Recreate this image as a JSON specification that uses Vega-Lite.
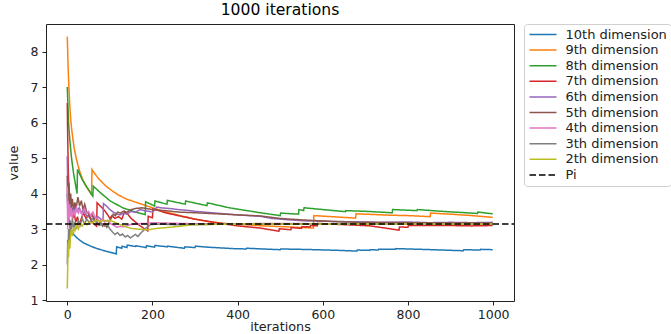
{
"$schema": "https://vega.github.io/schema/vega-lite/v6.json",
"width": 468, "height": 277,
"autosize": "none",
"padding": {"left": 46, "top": 24, "right": 157, "bottom": 33},
"title": {"text": "1000 iterations", "fontSize": 15.6, "font": "DejaVu Sans", "fontWeight": "normal", "color": "#000", "offset": 5, "anchor": "middle"},
"data": {"values": [
{"s":"10th dimension","i":0,"v":4.0},{"s":"10th dimension","i":1,"v":3.7},{"s":"10th dimension","i":3,"v":3.35},{"s":"10th dimension","i":6,"v":3.1},{"s":"10th dimension","i":10,"v":2.95},{"s":"10th dimension","i":15,"v":2.85},{"s":"10th dimension","i":22,"v":2.76},{"s":"10th dimension","i":30,"v":2.68},{"s":"10th dimension","i":40,"v":2.6},{"s":"10th dimension","i":55,"v":2.52},{"s":"10th dimension","i":70,"v":2.45},{"s":"10th dimension","i":90,"v":2.38},{"s":"10th dimension","i":115,"v":2.3},{"s":"10th dimension","i":116,"v":2.5},{"s":"10th dimension","i":128,"v":2.46},{"s":"10th dimension","i":129,"v":2.52},{"s":"10th dimension","i":140,"v":2.48},{"s":"10th dimension","i":141,"v":2.55},{"s":"10th dimension","i":160,"v":2.51},{"s":"10th dimension","i":161,"v":2.53},{"s":"10th dimension","i":185,"v":2.48},{"s":"10th dimension","i":186,"v":2.53},{"s":"10th dimension","i":205,"v":2.49},{"s":"10th dimension","i":206,"v":2.54},{"s":"10th dimension","i":235,"v":2.5},{"s":"10th dimension","i":236,"v":2.52},{"s":"10th dimension","i":260,"v":2.48},{"s":"10th dimension","i":275,"v":2.46},{"s":"10th dimension","i":276,"v":2.5},{"s":"10th dimension","i":300,"v":2.48},{"s":"10th dimension","i":301,"v":2.52},{"s":"10th dimension","i":330,"v":2.49},{"s":"10th dimension","i":360,"v":2.47},{"s":"10th dimension","i":390,"v":2.45},{"s":"10th dimension","i":420,"v":2.44},{"s":"10th dimension","i":421,"v":2.46},{"s":"10th dimension","i":460,"v":2.44},{"s":"10th dimension","i":500,"v":2.42},{"s":"10th dimension","i":501,"v":2.44},{"s":"10th dimension","i":545,"v":2.43},{"s":"10th dimension","i":580,"v":2.42},{"s":"10th dimension","i":610,"v":2.41},{"s":"10th dimension","i":640,"v":2.4},{"s":"10th dimension","i":680,"v":2.38},{"s":"10th dimension","i":681,"v":2.41},{"s":"10th dimension","i":710,"v":2.4},{"s":"10th dimension","i":711,"v":2.42},{"s":"10th dimension","i":730,"v":2.41},{"s":"10th dimension","i":731,"v":2.43},{"s":"10th dimension","i":770,"v":2.43},{"s":"10th dimension","i":771,"v":2.45},{"s":"10th dimension","i":830,"v":2.43},{"s":"10th dimension","i":880,"v":2.41},{"s":"10th dimension","i":930,"v":2.39},{"s":"10th dimension","i":931,"v":2.42},{"s":"10th dimension","i":970,"v":2.41},{"s":"10th dimension","i":971,"v":2.43},{"s":"10th dimension","i":999,"v":2.42},
{"s":"9th dimension","i":0,"v":8.42},{"s":"9th dimension","i":1,"v":8.0},{"s":"9th dimension","i":2,"v":7.55},{"s":"9th dimension","i":4,"v":6.95},{"s":"9th dimension","i":6,"v":6.45},{"s":"9th dimension","i":8,"v":6.1},{"s":"9th dimension","i":10,"v":5.85},{"s":"9th dimension","i":13,"v":5.55},{"s":"9th dimension","i":16,"v":5.3},{"s":"9th dimension","i":20,"v":5.05},{"s":"9th dimension","i":25,"v":4.8},{"s":"9th dimension","i":30,"v":4.6},{"s":"9th dimension","i":36,"v":4.4},{"s":"9th dimension","i":42,"v":4.25},{"s":"9th dimension","i":50,"v":4.1},{"s":"9th dimension","i":57,"v":3.97},{"s":"9th dimension","i":58,"v":4.68},{"s":"9th dimension","i":65,"v":4.55},{"s":"9th dimension","i":75,"v":4.4},{"s":"9th dimension","i":90,"v":4.22},{"s":"9th dimension","i":105,"v":4.08},{"s":"9th dimension","i":120,"v":3.96},{"s":"9th dimension","i":140,"v":3.84},{"s":"9th dimension","i":160,"v":3.76},{"s":"9th dimension","i":180,"v":3.68},{"s":"9th dimension","i":200,"v":3.6},{"s":"9th dimension","i":230,"v":3.49},{"s":"9th dimension","i":265,"v":3.38},{"s":"9th dimension","i":300,"v":3.28},{"s":"9th dimension","i":336,"v":3.2},{"s":"9th dimension","i":380,"v":3.15},{"s":"9th dimension","i":420,"v":3.12},{"s":"9th dimension","i":460,"v":3.09},{"s":"9th dimension","i":500,"v":3.07},{"s":"9th dimension","i":540,"v":3.05},{"s":"9th dimension","i":578,"v":3.03},{"s":"9th dimension","i":579,"v":3.38},{"s":"9th dimension","i":620,"v":3.35},{"s":"9th dimension","i":677,"v":3.31},{"s":"9th dimension","i":678,"v":3.43},{"s":"9th dimension","i":720,"v":3.41},{"s":"9th dimension","i":760,"v":3.39},{"s":"9th dimension","i":800,"v":3.38},{"s":"9th dimension","i":852,"v":3.35},{"s":"9th dimension","i":853,"v":3.45},{"s":"9th dimension","i":900,"v":3.42},{"s":"9th dimension","i":950,"v":3.38},{"s":"9th dimension","i":999,"v":3.33},
{"s":"8th dimension","i":0,"v":7.0},{"s":"8th dimension","i":3,"v":6.0},{"s":"8th dimension","i":6,"v":5.5},{"s":"8th dimension","i":10,"v":5.0},{"s":"8th dimension","i":15,"v":4.55},{"s":"8th dimension","i":23,"v":4.0},{"s":"8th dimension","i":24,"v":4.68},{"s":"8th dimension","i":35,"v":4.4},{"s":"8th dimension","i":45,"v":4.2},{"s":"8th dimension","i":60,"v":3.93},{"s":"8th dimension","i":61,"v":4.21},{"s":"8th dimension","i":80,"v":4.0},{"s":"8th dimension","i":100,"v":3.8},{"s":"8th dimension","i":130,"v":3.6},{"s":"8th dimension","i":160,"v":3.48},{"s":"8th dimension","i":183,"v":3.41},{"s":"8th dimension","i":184,"v":3.77},{"s":"8th dimension","i":205,"v":3.65},{"s":"8th dimension","i":206,"v":3.79},{"s":"8th dimension","i":234,"v":3.7},{"s":"8th dimension","i":235,"v":3.81},{"s":"8th dimension","i":277,"v":3.7},{"s":"8th dimension","i":278,"v":3.79},{"s":"8th dimension","i":328,"v":3.66},{"s":"8th dimension","i":329,"v":3.74},{"s":"8th dimension","i":380,"v":3.6},{"s":"8th dimension","i":453,"v":3.46},{"s":"8th dimension","i":500,"v":3.38},{"s":"8th dimension","i":501,"v":3.45},{"s":"8th dimension","i":543,"v":3.42},{"s":"8th dimension","i":544,"v":3.55},{"s":"8th dimension","i":555,"v":3.52},{"s":"8th dimension","i":556,"v":3.6},{"s":"8th dimension","i":600,"v":3.55},{"s":"8th dimension","i":653,"v":3.49},{"s":"8th dimension","i":654,"v":3.52},{"s":"8th dimension","i":700,"v":3.5},{"s":"8th dimension","i":763,"v":3.46},{"s":"8th dimension","i":764,"v":3.55},{"s":"8th dimension","i":821,"v":3.52},{"s":"8th dimension","i":822,"v":3.55},{"s":"8th dimension","i":880,"v":3.5},{"s":"8th dimension","i":963,"v":3.44},{"s":"8th dimension","i":964,"v":3.48},{"s":"8th dimension","i":999,"v":3.43},
{"s":"7th dimension","i":0,"v":6.55},{"s":"7th dimension","i":1,"v":5.6},{"s":"7th dimension","i":2,"v":4.9},{"s":"7th dimension","i":3,"v":4.4},{"s":"7th dimension","i":5,"v":3.95},{"s":"7th dimension","i":7,"v":3.7},{"s":"7th dimension","i":10,"v":3.5},{"s":"7th dimension","i":13,"v":3.3},{"s":"7th dimension","i":16,"v":3.45},{"s":"7th dimension","i":20,"v":3.2},{"s":"7th dimension","i":24,"v":3.35},{"s":"7th dimension","i":28,"v":3.1},{"s":"7th dimension","i":33,"v":3.3},{"s":"7th dimension","i":38,"v":3.45},{"s":"7th dimension","i":44,"v":3.3},{"s":"7th dimension","i":50,"v":3.4},{"s":"7th dimension","i":56,"v":3.25},{"s":"7th dimension","i":62,"v":3.15},{"s":"7th dimension","i":69,"v":3.08},{"s":"7th dimension","i":70,"v":3.74},{"s":"7th dimension","i":80,"v":3.62},{"s":"7th dimension","i":89,"v":3.5},{"s":"7th dimension","i":95,"v":3.4},{"s":"7th dimension","i":100,"v":3.3},{"s":"7th dimension","i":105,"v":3.38},{"s":"7th dimension","i":112,"v":3.3},{"s":"7th dimension","i":120,"v":3.35},{"s":"7th dimension","i":128,"v":3.28},{"s":"7th dimension","i":135,"v":3.5},{"s":"7th dimension","i":142,"v":3.42},{"s":"7th dimension","i":150,"v":3.3},{"s":"7th dimension","i":160,"v":3.2},{"s":"7th dimension","i":170,"v":3.1},{"s":"7th dimension","i":180,"v":3.02},{"s":"7th dimension","i":189,"v":2.95},{"s":"7th dimension","i":190,"v":3.36},{"s":"7th dimension","i":200,"v":3.32},{"s":"7th dimension","i":201,"v":3.57},{"s":"7th dimension","i":215,"v":3.52},{"s":"7th dimension","i":230,"v":3.46},{"s":"7th dimension","i":260,"v":3.38},{"s":"7th dimension","i":300,"v":3.28},{"s":"7th dimension","i":350,"v":3.18},{"s":"7th dimension","i":400,"v":3.09},{"s":"7th dimension","i":453,"v":3.03},{"s":"7th dimension","i":497,"v":2.94},{"s":"7th dimension","i":498,"v":3.01},{"s":"7th dimension","i":525,"v":2.98},{"s":"7th dimension","i":526,"v":3.04},{"s":"7th dimension","i":550,"v":3.02},{"s":"7th dimension","i":551,"v":3.07},{"s":"7th dimension","i":570,"v":3.06},{"s":"7th dimension","i":571,"v":3.1},{"s":"7th dimension","i":587,"v":3.09},{"s":"7th dimension","i":588,"v":3.16},{"s":"7th dimension","i":620,"v":3.14},{"s":"7th dimension","i":660,"v":3.12},{"s":"7th dimension","i":712,"v":3.09},{"s":"7th dimension","i":740,"v":3.04},{"s":"7th dimension","i":779,"v":2.97},{"s":"7th dimension","i":780,"v":3.06},{"s":"7th dimension","i":800,"v":3.05},{"s":"7th dimension","i":801,"v":3.1},{"s":"7th dimension","i":850,"v":3.1},{"s":"7th dimension","i":900,"v":3.1},{"s":"7th dimension","i":950,"v":3.09},{"s":"7th dimension","i":999,"v":3.1},
{"s":"6th dimension","i":0,"v":5.05},{"s":"6th dimension","i":1,"v":4.2},{"s":"6th dimension","i":2,"v":3.7},{"s":"6th dimension","i":3,"v":4.0},{"s":"6th dimension","i":5,"v":3.5},{"s":"6th dimension","i":7,"v":3.75},{"s":"6th dimension","i":9,"v":3.4},{"s":"6th dimension","i":12,"v":3.6},{"s":"6th dimension","i":15,"v":3.45},{"s":"6th dimension","i":19,"v":3.65},{"s":"6th dimension","i":23,"v":3.5},{"s":"6th dimension","i":28,"v":3.6},{"s":"6th dimension","i":33,"v":3.45},{"s":"6th dimension","i":38,"v":3.55},{"s":"6th dimension","i":44,"v":3.4},{"s":"6th dimension","i":50,"v":3.35},{"s":"6th dimension","i":57,"v":3.42},{"s":"6th dimension","i":64,"v":3.3},{"s":"6th dimension","i":72,"v":3.35},{"s":"6th dimension","i":79,"v":3.28},{"s":"6th dimension","i":84,"v":3.25},{"s":"6th dimension","i":85,"v":3.72},{"s":"6th dimension","i":92,"v":3.65},{"s":"6th dimension","i":100,"v":3.55},{"s":"6th dimension","i":108,"v":3.48},{"s":"6th dimension","i":116,"v":3.42},{"s":"6th dimension","i":124,"v":3.4},{"s":"6th dimension","i":132,"v":3.45},{"s":"6th dimension","i":140,"v":3.42},{"s":"6th dimension","i":150,"v":3.5},{"s":"6th dimension","i":160,"v":3.47},{"s":"6th dimension","i":170,"v":3.55},{"s":"6th dimension","i":180,"v":3.52},{"s":"6th dimension","i":192,"v":3.5},{"s":"6th dimension","i":200,"v":3.48},{"s":"6th dimension","i":210,"v":3.62},{"s":"6th dimension","i":220,"v":3.6},{"s":"6th dimension","i":240,"v":3.58},{"s":"6th dimension","i":260,"v":3.55},{"s":"6th dimension","i":280,"v":3.53},{"s":"6th dimension","i":300,"v":3.5},{"s":"6th dimension","i":330,"v":3.47},{"s":"6th dimension","i":360,"v":3.44},{"s":"6th dimension","i":400,"v":3.4},{"s":"6th dimension","i":453,"v":3.36},{"s":"6th dimension","i":480,"v":3.3},{"s":"6th dimension","i":520,"v":3.26},{"s":"6th dimension","i":560,"v":3.23},{"s":"6th dimension","i":600,"v":3.22},{"s":"6th dimension","i":650,"v":3.21},{"s":"6th dimension","i":700,"v":3.2},{"s":"6th dimension","i":750,"v":3.19},{"s":"6th dimension","i":800,"v":3.2},{"s":"6th dimension","i":850,"v":3.18},{"s":"6th dimension","i":900,"v":3.19},{"s":"6th dimension","i":950,"v":3.18},{"s":"6th dimension","i":999,"v":3.19},
{"s":"5th dimension","i":0,"v":4.5},{"s":"5th dimension","i":1,"v":3.6},{"s":"5th dimension","i":2,"v":4.2},{"s":"5th dimension","i":3,"v":3.8},{"s":"5th dimension","i":4,"v":4.3},{"s":"5th dimension","i":6,"v":3.7},{"s":"5th dimension","i":8,"v":4.0},{"s":"5th dimension","i":10,"v":3.6},{"s":"5th dimension","i":12,"v":3.85},{"s":"5th dimension","i":15,"v":3.55},{"s":"5th dimension","i":18,"v":3.75},{"s":"5th dimension","i":21,"v":3.6},{"s":"5th dimension","i":25,"v":3.9},{"s":"5th dimension","i":29,"v":3.65},{"s":"5th dimension","i":33,"v":3.8},{"s":"5th dimension","i":37,"v":3.55},{"s":"5th dimension","i":41,"v":3.7},{"s":"5th dimension","i":45,"v":3.5},{"s":"5th dimension","i":49,"v":3.45},{"s":"5th dimension","i":53,"v":3.32},{"s":"5th dimension","i":58,"v":3.4},{"s":"5th dimension","i":63,"v":3.28},{"s":"5th dimension","i":68,"v":3.2},{"s":"5th dimension","i":73,"v":3.12},{"s":"5th dimension","i":78,"v":3.2},{"s":"5th dimension","i":83,"v":3.08},{"s":"5th dimension","i":88,"v":3.15},{"s":"5th dimension","i":93,"v":3.05},{"s":"5th dimension","i":98,"v":3.2},{"s":"5th dimension","i":103,"v":3.3},{"s":"5th dimension","i":108,"v":3.42},{"s":"5th dimension","i":113,"v":3.38},{"s":"5th dimension","i":118,"v":3.48},{"s":"5th dimension","i":125,"v":3.45},{"s":"5th dimension","i":132,"v":3.5},{"s":"5th dimension","i":140,"v":3.47},{"s":"5th dimension","i":150,"v":3.55},{"s":"5th dimension","i":160,"v":3.58},{"s":"5th dimension","i":175,"v":3.6},{"s":"5th dimension","i":190,"v":3.57},{"s":"5th dimension","i":200,"v":3.55},{"s":"5th dimension","i":215,"v":3.53},{"s":"5th dimension","i":230,"v":3.52},{"s":"5th dimension","i":260,"v":3.48},{"s":"5th dimension","i":300,"v":3.46},{"s":"5th dimension","i":350,"v":3.43},{"s":"5th dimension","i":400,"v":3.4},{"s":"5th dimension","i":453,"v":3.37},{"s":"5th dimension","i":500,"v":3.3},{"s":"5th dimension","i":550,"v":3.26},{"s":"5th dimension","i":600,"v":3.23},{"s":"5th dimension","i":650,"v":3.2},{"s":"5th dimension","i":700,"v":3.19},{"s":"5th dimension","i":800,"v":3.18},{"s":"5th dimension","i":900,"v":3.17},{"s":"5th dimension","i":999,"v":3.17},
{"s":"4th dimension","i":0,"v":4.2},{"s":"4th dimension","i":1,"v":3.0},{"s":"4th dimension","i":2,"v":3.8},{"s":"4th dimension","i":3,"v":3.2},{"s":"4th dimension","i":5,"v":3.7},{"s":"4th dimension","i":7,"v":3.35},{"s":"4th dimension","i":9,"v":3.6},{"s":"4th dimension","i":12,"v":3.3},{"s":"4th dimension","i":15,"v":3.5},{"s":"4th dimension","i":18,"v":3.4},{"s":"4th dimension","i":22,"v":3.6},{"s":"4th dimension","i":26,"v":3.45},{"s":"4th dimension","i":30,"v":3.55},{"s":"4th dimension","i":35,"v":3.4},{"s":"4th dimension","i":40,"v":3.58},{"s":"4th dimension","i":45,"v":3.45},{"s":"4th dimension","i":50,"v":3.5},{"s":"4th dimension","i":55,"v":3.38},{"s":"4th dimension","i":60,"v":3.48},{"s":"4th dimension","i":65,"v":3.35},{"s":"4th dimension","i":70,"v":3.3},{"s":"4th dimension","i":76,"v":3.22},{"s":"4th dimension","i":82,"v":3.28},{"s":"4th dimension","i":88,"v":3.2},{"s":"4th dimension","i":95,"v":3.25},{"s":"4th dimension","i":102,"v":3.15},{"s":"4th dimension","i":110,"v":3.1},{"s":"4th dimension","i":117,"v":3.05},{"s":"4th dimension","i":124,"v":3.08},{"s":"4th dimension","i":131,"v":3.06},{"s":"4th dimension","i":140,"v":3.1},{"s":"4th dimension","i":150,"v":3.13},{"s":"4th dimension","i":165,"v":3.15},{"s":"4th dimension","i":185,"v":3.16},{"s":"4th dimension","i":200,"v":3.18},{"s":"4th dimension","i":230,"v":3.17},{"s":"4th dimension","i":260,"v":3.16},{"s":"4th dimension","i":300,"v":3.15},{"s":"4th dimension","i":400,"v":3.15},{"s":"4th dimension","i":500,"v":3.16},{"s":"4th dimension","i":600,"v":3.15},{"s":"4th dimension","i":700,"v":3.15},{"s":"4th dimension","i":800,"v":3.15},{"s":"4th dimension","i":900,"v":3.15},{"s":"4th dimension","i":999,"v":3.14},
{"s":"3th dimension","i":0,"v":2.0},{"s":"3th dimension","i":1,"v":2.7},{"s":"3th dimension","i":2,"v":2.3},{"s":"3th dimension","i":3,"v":3.0},{"s":"3th dimension","i":5,"v":2.6},{"s":"3th dimension","i":7,"v":3.25},{"s":"3th dimension","i":9,"v":2.9},{"s":"3th dimension","i":12,"v":3.3},{"s":"3th dimension","i":15,"v":3.0},{"s":"3th dimension","i":18,"v":3.2},{"s":"3th dimension","i":22,"v":3.05},{"s":"3th dimension","i":26,"v":3.25},{"s":"3th dimension","i":30,"v":3.1},{"s":"3th dimension","i":35,"v":3.3},{"s":"3th dimension","i":40,"v":3.15},{"s":"3th dimension","i":46,"v":3.28},{"s":"3th dimension","i":52,"v":3.18},{"s":"3th dimension","i":58,"v":3.3},{"s":"3th dimension","i":64,"v":3.22},{"s":"3th dimension","i":70,"v":3.2},{"s":"3th dimension","i":76,"v":3.1},{"s":"3th dimension","i":82,"v":3.15},{"s":"3th dimension","i":88,"v":3.08},{"s":"3th dimension","i":94,"v":3.14},{"s":"3th dimension","i":100,"v":3.0},{"s":"3th dimension","i":106,"v":2.92},{"s":"3th dimension","i":112,"v":2.85},{"s":"3th dimension","i":118,"v":2.9},{"s":"3th dimension","i":124,"v":2.82},{"s":"3th dimension","i":130,"v":2.86},{"s":"3th dimension","i":136,"v":2.78},{"s":"3th dimension","i":142,"v":2.82},{"s":"3th dimension","i":148,"v":2.75},{"s":"3th dimension","i":154,"v":2.8},{"s":"3th dimension","i":160,"v":2.85},{"s":"3th dimension","i":166,"v":2.79},{"s":"3th dimension","i":172,"v":2.88},{"s":"3th dimension","i":178,"v":2.95},{"s":"3th dimension","i":184,"v":3.02},{"s":"3th dimension","i":190,"v":3.08},{"s":"3th dimension","i":196,"v":3.13},{"s":"3th dimension","i":220,"v":3.14},{"s":"3th dimension","i":260,"v":3.12},{"s":"3th dimension","i":300,"v":3.13},{"s":"3th dimension","i":400,"v":3.14},{"s":"3th dimension","i":500,"v":3.14},{"s":"3th dimension","i":600,"v":3.15},{"s":"3th dimension","i":700,"v":3.14},{"s":"3th dimension","i":800,"v":3.14},{"s":"3th dimension","i":900,"v":3.14},{"s":"3th dimension","i":999,"v":3.14},
{"s":"2th dimension","i":0,"v":1.33},{"s":"2th dimension","i":1,"v":1.9},{"s":"2th dimension","i":2,"v":2.6},{"s":"2th dimension","i":3,"v":2.2},{"s":"2th dimension","i":4,"v":2.7},{"s":"2th dimension","i":6,"v":2.45},{"s":"2th dimension","i":8,"v":2.85},{"s":"2th dimension","i":10,"v":3.0},{"s":"2th dimension","i":12,"v":2.8},{"s":"2th dimension","i":15,"v":3.05},{"s":"2th dimension","i":18,"v":2.95},{"s":"2th dimension","i":22,"v":3.12},{"s":"2th dimension","i":26,"v":3.0},{"s":"2th dimension","i":30,"v":3.15},{"s":"2th dimension","i":35,"v":3.08},{"s":"2th dimension","i":40,"v":3.18},{"s":"2th dimension","i":46,"v":3.12},{"s":"2th dimension","i":52,"v":3.2},{"s":"2th dimension","i":58,"v":3.17},{"s":"2th dimension","i":64,"v":3.22},{"s":"2th dimension","i":70,"v":3.25},{"s":"2th dimension","i":78,"v":3.21},{"s":"2th dimension","i":86,"v":3.25},{"s":"2th dimension","i":94,"v":3.22},{"s":"2th dimension","i":102,"v":3.24},{"s":"2th dimension","i":110,"v":3.2},{"s":"2th dimension","i":118,"v":3.15},{"s":"2th dimension","i":126,"v":3.12},{"s":"2th dimension","i":134,"v":3.08},{"s":"2th dimension","i":142,"v":3.05},{"s":"2th dimension","i":150,"v":3.02},{"s":"2th dimension","i":165,"v":3.0},{"s":"2th dimension","i":180,"v":2.99},{"s":"2th dimension","i":190,"v":2.98},{"s":"2th dimension","i":210,"v":3.02},{"s":"2th dimension","i":240,"v":3.05},{"s":"2th dimension","i":265,"v":3.08},{"s":"2th dimension","i":289,"v":3.12},{"s":"2th dimension","i":320,"v":3.13},{"s":"2th dimension","i":400,"v":3.14},{"s":"2th dimension","i":500,"v":3.14},{"s":"2th dimension","i":600,"v":3.14},{"s":"2th dimension","i":700,"v":3.14},{"s":"2th dimension","i":800,"v":3.14},{"s":"2th dimension","i":900,"v":3.14},{"s":"2th dimension","i":999,"v":3.14},
{"s":"Pi","i":-49.95,"v":3.14159},{"s":"Pi","i":1048.95,"v":3.14159}
]},
"mark": {"type": "line", "strokeWidth": 1.5, "clip": true},
"encoding": {
  "x": {"field": "i", "type": "quantitative", "scale": {"domain": [-49.95, 1048.95], "nice": false, "zero": false}, "axis": {"values": [0,200,400,600,800,1000], "title": "iterations", "format": "d"}},
  "y": {"field": "v", "type": "quantitative", "scale": {"domain": [0.975, 8.775], "nice": false, "zero": false}, "axis": {"values": [1,2,3,4,5,6,7,8], "title": "value", "format": "d"}},
  "color": {"field": "s", "type": "nominal", "title": null,
    "scale": {"domain": ["10th dimension","9th dimension","8th dimension","7th dimension","6th dimension","5th dimension","4th dimension","3th dimension","2th dimension","Pi"],
              "range": ["#1f77b4","#ff7f0e","#2ca02c","#d62728","#9467bd","#8c564b","#e377c2","#7f7f7f","#bcbd22","#000000"]}},
  "strokeDash": {"field": "s", "type": "nominal", "title": null,
    "scale": {"domain": ["10th dimension","9th dimension","8th dimension","7th dimension","6th dimension","5th dimension","4th dimension","3th dimension","2th dimension","Pi"],
              "range": [[1,0],[1,0],[1,0],[1,0],[1,0],[1,0],[1,0],[1,0],[1,0],[6.5,3]]}}
},
"config": {
  "view": {"stroke": "#222", "strokeWidth": 1},
  "font": "DejaVu Sans",
  "axis": {"domain": false, "grid": false, "tickColor": "#222", "tickSize": 4, "labelFont": "DejaVu Sans", "labelFontSize": 12.5, "labelColor": "#222", "titleFont": "DejaVu Sans", "titleFontSize": 12.8, "titleFontWeight": "normal", "titleColor": "#222", "labelPadding": 4},
  "axisX": {"titlePadding": 0, "labelPadding": 3},
  "axisY": {"titlePadding": 10},
  "legend": {"orient": "right", "offset": 10, "padding": 4, "strokeColor": "#d0d0d0", "cornerRadius": 3, "fillColor": "#fff", "labelFont": "DejaVu Sans", "labelFontSize": 13, "labelColor": "#222", "symbolType": "M-2.7,0H2.7", "symbolSize": 100, "symbolStrokeWidth": 1.5, "symbolOffset": 8.5, "labelOffset": 16, "rowPadding": 1.6}
}
}
